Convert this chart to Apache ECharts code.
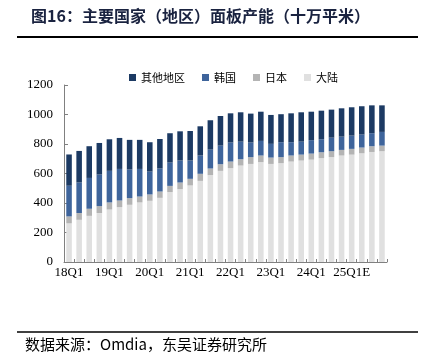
<!DOCTYPE html>
<html>
<head>
<meta charset="utf-8">
<script src="https://cdn.jsdelivr.net/npm/echarts@6/dist/echarts.min.js"></script>
<style>
html,body{margin:0;padding:0;background:#fff;}
#c{width:427px;height:360px;}
</style>
</head>
<body>
<div id="c"></div>
<script>
var categories = [
  '18Q1','18Q2','18Q3','18Q4','19Q1','19Q2','19Q3','19Q4',
  '20Q1','20Q2','20Q3','20Q4','21Q1','21Q2','21Q3','21Q4',
  '22Q1','22Q2','22Q3','22Q4','23Q1','23Q2','23Q3','23Q4',
  '24Q1','24Q2','24Q3','24Q4','25Q1E','25Q2E','25Q3E','25Q4E'
];
var mainland = [262,286,313,332,356,372,388,404,415,435,474,494,519,550,589,618,636,654,665,677,665,670,681,688,694,704,711,722,728,737,746,751];
var japan = [47,46,48,47,48,45,45,40,43,43,42,45,45,48,45,45,45,43,46,45,43,41,41,40,41,40,40,38,39,39,39,38];
var korea = [208,207,209,214,214,214,194,187,155,156,158,149,124,124,128,126,129,119,99,99,93,101,90,88,91,88,92,90,90,88,88,93];
var others = [212,214,215,214,214,210,201,197,199,200,199,198,200,198,199,201,198,199,196,198,196,190,196,199,193,194,190,192,192,192,189,180];
var yTicks = [0,200,400,600,800,1000,1200];
var seriesNames = ['其他地区','韩国','日本','大陆'];

var serif = 'Liberation Serif';
var cjk = 'Noto Sans CJK SC';

var chart = echarts.init(document.getElementById('c'), null, {renderer:'canvas'});
function mk(name, data, color){
  return {name:name, type:'bar', stack:'total', data:data, barWidth:'55%',
    itemStyle:{color:color}, emphasis:{disabled:true}};
}
chart.setOption({
  animation:false,
  title:{
    text:'图16：主要国家（地区）面板产能（十万平米）',
    left:26, top:3,
    textStyle:{fontFamily:cjk, fontSize:16, fontWeight:'bold', color:'#1a2340'}
  },
  graphic:[
    {type:'line', shape:{x1:17,y1:37,x2:418,y2:37}, style:{stroke:'#000',lineWidth:2}},
    {type:'line', shape:{x1:17,y1:332,x2:418,y2:332}, style:{stroke:'#000',lineWidth:1.5}},
    {type:'text', left:25, top:337, style:{text:'数据来源：Omdia，东吴证券研究所', fontFamily:cjk, fontSize:15, fill:'#000'}}
  ],
  legend:{
    data:seriesNames, left:124, top:67, icon:'rect', itemWidth:7, itemHeight:7,
    itemGap:17, textStyle:{fontFamily:cjk, fontSize:11, color:'#000'}
  },
  grid:{left:64, right:40, top:85, bottom:98},
  xAxis:{
    type:'category', data:categories,
    axisLine:{lineStyle:{color:'#808080'}},
    axisTick:{show:true, inside:true, length:3, interval:0, lineStyle:{color:'#808080'}},
    axisLabel:{interval:3, fontFamily:serif, fontSize:13, color:'#000', margin:4}
  },
  yAxis:{
    type:'value', min:yTicks[0], max:yTicks[yTicks.length-1], interval:200,
    splitLine:{show:false},
    axisLine:{show:true, lineStyle:{color:'#808080'}},
    axisTick:{show:true, inside:true, length:4, lineStyle:{color:'#808080'}},
    axisLabel:{fontFamily:serif, fontSize:13, color:'#000', margin:11,
      formatter:function(v){return String(v);}}
  },
  series:[
    mk('大陆', mainland, '#e0e0e0'),
    mk('日本', japan, '#b4b4b4'),
    mk('韩国', korea, '#3e649b'),
    mk('其他地区', others, '#1c3a63')
  ]
});
</script>
</body>
</html>
